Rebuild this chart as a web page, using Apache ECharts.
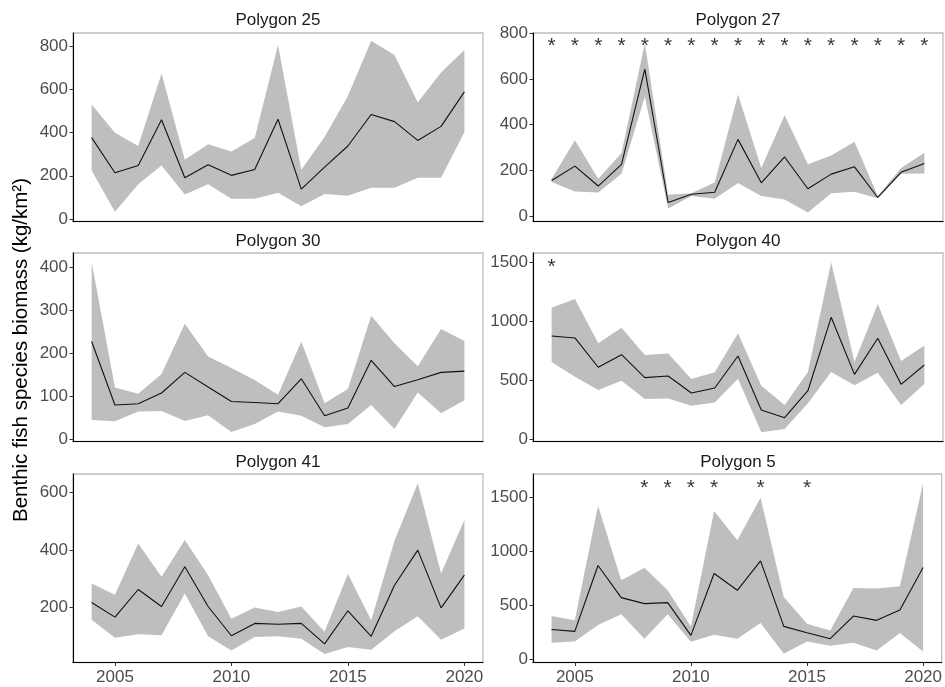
<!DOCTYPE html>
<html>
<head>
<meta charset="utf-8">
<script src="https://cdn.jsdelivr.net/npm/echarts@6/dist/echarts.min.js"></script>
<style>
html,body{margin:0;padding:0;background:#fff;}
#chart{width:945px;height:687px;}
</style>
</head>
<body>
<div id="chart"></div>
<script>
// ---- data ----
var years = [2004,2005,2006,2007,2008,2009,2010,2011,2012,2013,2014,2015,2016,2017,2018,2019,2020];
var xTicks = [2005,2010,2015,2020];

var p25Mean = [377,214,248,460,191,251,202,229,462,138,240,338,484,451,364,429,589];
var p25Low  = [225,33,161,248,113,161,93,93,121,59,116,107,144,144,191,191,402];
var p25High = [530,400,338,674,274,346,313,375,806,228,380,570,826,760,541,679,783];

var p27Mean = [156,219,132,227,643,60,96,105,336,146,259,120,184,216,82,192,231];
var p27Low  = [150,108,104,186,522,34,88,76,145,89,73,16,101,107,79,186,187];
var p27High = [164,332,164,276,756,94,101,148,532,211,442,227,266,326,89,211,278];

var p30Mean = [227,79,82,107,155,121,87,85,82,140,54,72,183,122,138,155,158];
var p30Low  = [44,41,64,65,42,55,16,35,64,54,27,35,79,23,108,60,90];
var p30High = [412,120,105,151,268,192,165,137,103,227,83,116,287,223,169,256,228];

var p40Mean = [875,858,609,716,521,535,391,433,705,246,181,410,1033,549,855,464,628];
var p40Low  = [654,529,416,495,340,345,283,309,512,57,85,303,569,456,563,289,467];
var p40High = [1115,1189,812,945,713,727,509,566,897,453,289,569,1500,654,1146,662,793];

var p41Mean = [217,166,262,203,341,203,101,144,141,144,73,188,99,277,399,198,312];
var p41Low  = [157,94,106,103,248,99,50,97,99,91,38,62,52,117,169,87,126];
var p41High = [283,244,422,306,434,312,160,199,184,203,115,316,155,432,632,318,504];

var p5Mean = [278,260,869,572,517,526,223,795,640,912,306,247,192,402,362,458,851];
var p5Low  = [155,167,319,418,192,418,164,229,192,337,53,167,127,155,84,244,74];
var p5High = [402,362,1423,733,848,640,306,1373,1104,1497,578,331,269,662,656,677,1630];

var p25Stars = [];
var p27Stars = [2004,2005,2006,2007,2008,2009,2010,2011,2012,2013,2014,2015,2016,2017,2018,2019,2020];
var p30Stars = [];
var p40Stars = [2004];
var p41Stars = [];
var p5Stars  = [2008,2009,2010,2011,2013,2015];

var p25Ticks = [0,200,400,600,800];
var p27Ticks = [0,200,400,600,800];
var p30Ticks = [0,100,200,300,400];
var p40Ticks = [0,500,1000,1500];
var p41Ticks = [200,400,600];
var p5Ticks  = [0,500,1000,1500];

var titles = ['Polygon 25','Polygon 27','Polygon 30','Polygon 40','Polygon 41','Polygon 5'];

// ---- layout ----
var panels = [
  {title:titles[0], mean:p25Mean, low:p25Low, high:p25High, stars:p25Stars, starY:null, ticks:p25Ticks, ymin:-12, ymax:862, col:0, row:0},
  {title:titles[1], mean:p27Mean, low:p27Low, high:p27High, stars:p27Stars, starY:763, ticks:p27Ticks, ymin:-23, ymax:801, col:1, row:0},
  {title:titles[2], mean:p30Mean, low:p30Low, high:p30High, stars:p30Stars, starY:null, ticks:p30Ticks, ymin:-6, ymax:433, col:0, row:1},
  {title:titles[3], mean:p40Mean, low:p40Low, high:p40High, stars:p40Stars, starY:1500, ticks:p40Ticks, ymin:-21, ymax:1579, col:1, row:1},
  {title:titles[4], mean:p41Mean, low:p41Low, high:p41High, stars:p41Stars, starY:null, ticks:p41Ticks, ymin:8, ymax:664, col:0, row:2},
  {title:titles[5], mean:p5Mean, low:p5Low, high:p5High, stars:p5Stars, starY:1630, ticks:p5Ticks, ymin:-28, ymax:1716, col:1, row:2}
];
var colLeft = [73, 533];
var rowTop = [33, 253, 474];
var rowTitleY = [20.5, 241, 462];
var gridW = 410, gridH = 188.5;

var FONT = 'Liberation Sans';
var grids = [], xAxes = [], yAxes = [], series = [], graphics = [];

function makeBandRender(p) {
  return function(params, api) {
    if (params.dataIndex !== 0) return null;
    var pts = [];
    for (var k = 0; k < years.length; k++) pts.push(api.coord([years[k], p.high[k]]));
    for (var k2 = years.length - 1; k2 >= 0; k2--) pts.push(api.coord([years[k2], p.low[k2]]));
    return {
      type: 'polygon',
      shape: {points: pts},
      style: {fill: '#bebebe', stroke: null}
    };
  };
}

panels.forEach(function(p, i){
  grids.push({
    left: colLeft[p.col], top: rowTop[p.row], width: gridW, height: gridH,
    show: true, borderColor: '#bdbdbd', borderWidth: 1.3,
    containLabel: false
  });
  var bottomRow = p.row === 2;
  xAxes.push({
    type: 'value', gridIndex: i, min: 2003.2, max: 2020.8,
    splitLine: {show: false},
    axisLine: {show: true, onZero: false, lineStyle: {color: '#000', width: 1.1}},
    axisTick: {show: bottomRow, length: 3.5, lineStyle: {color: '#333'}, customValues: xTicks},
    axisLabel: {show: bottomRow, customValues: xTicks, color: '#4d4d4d', fontFamily: FONT, fontSize: 17, margin: 6,
      formatter: function(v){ return String(v); }}
  });
  yAxes.push({
    type: 'value', gridIndex: i, min: p.ymin, max: p.ymax,
    splitLine: {show: false},
    axisLine: {show: true, onZero: false, lineStyle: {color: '#000', width: 1.1}},
    axisTick: {show: true, length: 3.5, lineStyle: {color: '#333'}, customValues: p.ticks},
    axisLabel: {show: true, customValues: p.ticks, color: '#4d4d4d', fontFamily: FONT, fontSize: 17, margin: 5,
      formatter: function(v){ return String(v); }}
  });
  series.push({
    type: 'custom', xAxisIndex: i, yAxisIndex: i, silent: true, z: 1,
    renderItem: makeBandRender(p),
    encode: {x: 0, y: [1, 2]},
    data: years.map(function(y, k){ return [y, p.low[k], p.high[k]]; })
  });
  series.push({
    type: 'line', xAxisIndex: i, yAxisIndex: i, symbol: 'none', z: 3,
    lineStyle: {color: '#111', width: 1.1},
    data: years.map(function(y, k){ return [y, p.mean[k]]; })
  });
  if (p.stars.length) {
    series.push({
      type: 'scatter', xAxisIndex: i, yAxisIndex: i, symbolSize: 2, z: 4,
      itemStyle: {color: 'rgba(0,0,0,0)'},
      label: {show: true, position: 'inside', formatter: '*', color: '#000',
        fontFamily: FONT, fontSize: 21, offset: [0, 5]},
      data: p.stars.map(function(y){ return [y, p.starY]; })
    });
  }
  graphics.push({
    type: 'text', x: colLeft[p.col] + gridW/2, y: rowTitleY[p.row],
    style: {text: p.title, font: '17px "' + FONT + '"', fill: '#1a1a1a', textAlign: 'center', textVerticalAlign: 'middle'}
  });
});

graphics.push({
  type: 'text', x: 21, y: 350, rotation: Math.PI/2,
  style: {text: 'Benthic fish species biomass (kg/km²)', font: '20.5px "' + FONT + '"', fill: '#000', textAlign: 'center', textVerticalAlign: 'middle'}
});

var chart = echarts.init(document.getElementById('chart'), null, {renderer: 'canvas'});
chart.setOption({
  animation: false,
  backgroundColor: '#fff',
  grid: grids,
  xAxis: xAxes,
  yAxis: yAxes,
  series: series,
  graphic: graphics
});
</script>
</body>
</html>
